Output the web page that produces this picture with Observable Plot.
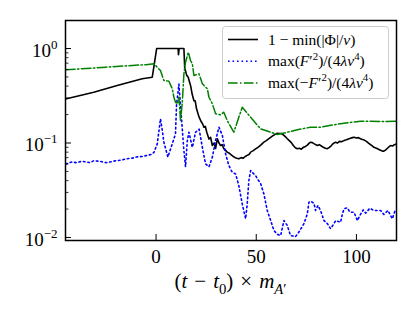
<!DOCTYPE html>
<html><head><meta charset="utf-8">
<script src="https://cdn.jsdelivr.net/npm/d3@7"></script>
<script src="https://cdn.jsdelivr.net/npm/@observablehq/plot@0.6"></script>
<style>body{margin:0;background:#fff}</style>
</head><body><div id="chart"></div>
<script>
// ---- data (t - t0) * m_A', value ----
const blackSeries = [[-45.2,0.292],[-31.1,0.345],[-19.4,0.406],[-6.9,0.478],[-1.9,0.497],[0.3,1.0],[11.0,1.0],[11.2,0.86],[11.5,1.0],[13.9,1.0],
[14.3,0.62],[14.8,0.57],[15.3,0.52],[16.0,0.5],[16.6,0.45],[17.3,0.40],[18.0,0.33],[18.9,0.28],[19.5,0.28],[20.2,0.23],[21.4,0.19],[22.4,0.17],
[23.2,0.16],[23.9,0.147],[24.6,0.15],[25.3,0.13],[26.4,0.11],[27.2,0.115],[28.1,0.094],[29,0.10],[29.7,0.0875],[30.6,0.111],[31.4,0.10],[32.2,0.094],
[33,0.096],[33.8,0.087],[34.6,0.084],[35.5,0.080],[36.5,0.078],[37.5,0.075],[38.5,0.072],[39.5,0.070],[40.3,0.069],[41.3,0.068],
[42.5,0.070],[43.5,0.069],[44.5,0.072],[45.5,0.074],[46.5,0.076],[47.2,0.080],[48.5,0.083],[49.5,0.086],[50.5,0.089],[51.5,0.092],[52.5,0.096],
[53.8,0.102],[55,0.106],[56,0.110],[57,0.114],[58,0.118],[59,0.122],[60.5,0.127],[61.5,0.126],[62.5,0.126],[63.5,0.122],[64.5,0.117],[65.5,0.111],
[66.5,0.106],[67.5,0.101],[68.5,0.094],[69.5,0.089],[70.5,0.087],[71.5,0.088],[72.5,0.086],[73.5,0.090],[74.6,0.092],[75.5,0.095],[76.3,0.099],
[77.1,0.102],[78,0.101],[79,0.098],[80.5,0.094],[81.5,0.096],[82.5,0.093],[83.5,0.090],[84.5,0.088],[85.5,0.087],[86.5,0.090],[87.5,0.094],
[88.5,0.099],[89.6,0.102],[90.5,0.100],[91.5,0.104],[92.5,0.103],[93.8,0.106],[95,0.108],[96,0.110],[97,0.112],[98,0.114],[98.8,0.115],[100,0.113],
[101,0.114],[102,0.111],[103,0.109],[103.7,0.108],[105,0.104],[106,0.100],[107,0.096],[108,0.093],[108.7,0.090],[110,0.088],[111,0.086],[112,0.084],
[113,0.082],[113.7,0.082],[114.5,0.084],[115.5,0.088],[116.5,0.092],[117.1,0.094],[118,0.093],[119,0.096],[120,0.098]];

const blueSeries = [[-45,0.060],[-42,0.063],[-40,0.062],[-37,0.064],[-35,0.063],[-33,0.062],[-31,0.065],[-28,0.064],[-25,0.062],[-23,0.063],
[-20,0.065],[-17,0.066],[-15,0.068],[-12,0.069],[-10,0.071],[-7,0.072],[-4.4,0.074],[-2,0.076],[-1,0.080],[0.6,0.098],
[2.2,0.180],[3.1,0.136],[3.9,0.102],[5.9,0.071],[8.1,0.098],[9.7,0.125],[10.2,0.249],[11.4,0.42],[12.2,0.25],[13.9,0.083],
[14.7,0.056],[15.6,0.106],[16.4,0.130],[18.1,0.090],[19.7,0.130],[21.5,0.14],[23.1,0.090],[24.7,0.060],[26.4,0.056],[28.1,0.071],
[29.7,0.106],[31.4,0.147],[33.1,0.120],[34.7,0.077],[36.3,0.058],[38,0.049],[39.7,0.047],[41.3,0.0355],[43,0.0227],[44.7,0.0158],
[45.5,0.0227],[46.3,0.040],[47.2,0.051],[49.7,0.045],[52.2,0.037],[53.8,0.029],[55.5,0.0193],[57.2,0.0151],[58.8,0.0119],[60.5,0.0108],
[62.2,0.0105],[63.8,0.0151],[65.5,0.0134],[67.1,0.0105],[69.6,0.0102],[71.3,0.0114],[73.8,0.0140],[75.5,0.0178],[76.3,0.0236],[77.1,0.0242],
[78.8,0.0230],[79.6,0.0193],[80.8,0.0218],[82.1,0.0193],[83.8,0.0151],[85.5,0.0140],[87.1,0.0124],[88.8,0.0140],[89.6,0.0151],[92.1,0.0145],
[93,0.0178],[93.8,0.0201],[95.4,0.0206],[96.8,0.0185],[98.8,0.0185],[100.5,0.0151],[101.7,0.0171],[103.4,0.0196],[104.6,0.0181],[106.7,0.0204],
[108.7,0.0193],[110.4,0.0193],[112.1,0.0193],[113.7,0.0175],[115.7,0.0193],[117.9,0.0158],[119.6,0.0201]];

const greenSeries = [[-45.2,0.595],[-35,0.615],[-25,0.635],[-15,0.655],[-5,0.675],[-1.1,0.689],[2.2,0.585],[3.9,0.459],[6.4,0.451],[8.1,0.375],
[8.9,0.305],[9.7,0.270],[10.6,0.260],[11.4,0.305],[11.9,0.221],[12.2,0.173],[13.1,0.270],[13.9,0.540],[14.7,0.716],[16.1,0.914],[17.2,0.747],
[18.1,0.689],[18.9,0.518],[21.4,0.540],[23.1,0.423],[25.6,0.375],[26.4,0.305],[28.1,0.260],[29.7,0.204],[32.2,0.199],[33.8,0.212],[35.5,0.173],
[38.8,0.130],[43.0,0.239],[47.2,0.187],[52.2,0.141],[57.2,0.130],[60.5,0.123],[65.5,0.130],[70.5,0.138],[77.1,0.147],[82.1,0.147],[88,0.155],
[93.8,0.162],[102.1,0.170],[112.1,0.169],[120,0.170]];

const xTicks = [0, 50, 100];
const yTicks = [0.01, 0.1, 1];
const yMinor = [0.02,0.03,0.04,0.05,0.06,0.07,0.08,0.09,0.2,0.3,0.4,0.5,0.6,0.7,0.8,0.9];
const xDomain = [-45.2, 120];
const yDomain = [0.00929, 1.98];

const FONT = "'Liberation Serif', 'DejaVu Serif', serif";
const W = 415, H = 312, mL = 65, mR = 19, mT = 20, mB = 72;
const plotW = W - mL - mR, plotH = H - mT - mB;
const toObj = a => a.map(([t, v]) => ({t, v}));

const styles = {
  black: {stroke: "black", strokeWidth: 1.6, strokeDasharray: null},
  blue: {stroke: "#0000ff", strokeWidth: 1.6, strokeDasharray: "1.6,2.9"},
  green: {stroke: "#008000", strokeWidth: 1.5, strokeDasharray: "9.6,2.4,1.5,2.4"}
};

const chart = Plot.plot({
  width: W, height: H, marginLeft: mL, marginRight: mR, marginTop: mT, marginBottom: mB,
  style: {background: "white", fontFamily: FONT, fontSize: "19px", color: "black", overflow: "visible"},
  x: {domain: xDomain},
  y: {type: "log", domain: yDomain},
  marks: [
    Plot.line(toObj(blackSeries), {x: "t", y: "v", ...styles.black, clip: true}),
    Plot.line(toObj(blueSeries), {x: "t", y: "v", ...styles.blue, clip: true}),
    Plot.line(toObj(greenSeries), {x: "t", y: "v", ...styles.green, clip: true}),
    Plot.tickX(xTicks, {x: d => d, insetTop: plotH - 6, stroke: "black", strokeWidth: 1}),
    Plot.tickY(yTicks, {y: d => d, insetRight: plotW - 6, stroke: "black", strokeWidth: 1}),
    Plot.tickY(yMinor, {y: d => d, insetRight: plotW - 3.5, stroke: "black", strokeWidth: 0.8}),
    Plot.axisX({ticks: xTicks, tickSize: 0, tickPadding: 9, label: null, tickFormat: d => String(d)}),
    Plot.axisY({ticks: yTicks, tickSize: 0, tickPadding: 8, label: null, dy: 2,
      tickFormat: d => "10^" + Math.round(Math.log10(d))}),
    Plot.frame({stroke: "black", strokeWidth: 1.5})
  ]
});
document.getElementById("chart").appendChild(chart);

const svg = d3.select(chart);

// superscript tick labels
svg.selectAll('g[aria-label="y-axis tick label"] text').each(function () {
  const [b, e] = this.textContent.split("^");
  const el = d3.select(this);
  el.text(null);
  el.append("tspan").text(b);
  el.append("tspan").attr("dy", -8).attr("font-size", 13).text(e.replace("-", "\u2212"));
});

function rich(sel, x, y, parts, fs, anchor = "start") {
  const t = sel.append("text").attr("x", x).attr("y", y).attr("font-size", fs)
    .attr("text-anchor", anchor).attr("font-family", FONT).attr("fill", "black")
    .style("white-space", "pre");
  let shift = 0;
  for (const p of parts) {
    const [s, k = ""] = typeof p === "string" ? [p] : p;
    const isSup = k.includes("sup"), isSub = k.includes("sub");
    const target = isSup ? -fs * 0.42 : isSub ? fs * 0.28 : 0;
    const ts = t.append("tspan").text(s).attr("dy", target - shift);
    shift = target;
    if (isSup || isSub) ts.attr("font-size", fs * 0.7);
    if (k.startsWith("i")) ts.attr("font-style", "italic");
  }
  return t;
}

// x label
rich(svg, mL + plotW / 2, 288,
  ["(", ["t", "i"], "\u2004\u2212\u2004", ["t", "i"], ["0", "sub"], ")\u2004\u00d7\u2004", ["m", "i"], ["A", "isub"], ["\u2032", "sub"]],
  21, "middle");

// legend
const legendRows = [
  {key: "black", parts: ["1 \u2212 min(|\u03a6|/", ["v", "i"], ")"]},
  {key: "blue", parts: ["max(", ["F", "i"], "\u2032", ["2", "sup"], ")/(4", ["\u03bbv", "i"], ["4", "sup"], ")"]},
  {key: "green", parts: ["max(\u2212", ["F", "i"], "\u2032", ["2", "sup"], ")/(4", ["\u03bbv", "i"], ["4", "sup"], ")"]}
];
const lg = svg.append("g");
lg.append("rect").attr("x", 222.5).attr("y", 26.5).attr("width", 166).attr("height", 72).attr("rx", 3)
  .attr("fill", "white").attr("fill-opacity", 0.8).attr("stroke", "#cccccc").attr("stroke-width", 1);
legendRows.forEach((r, i) => {
  const yy = 39.5 + i * 21.7;
  const s = styles[r.key];
  lg.append("line").attr("x1", 228).attr("x2", 258).attr("y1", yy).attr("y2", yy)
    .attr("stroke", s.stroke).attr("stroke-width", s.strokeWidth)
    .attr("stroke-dasharray", s.strokeDasharray);
  rich(lg, 268, yy + 5, r.parts, 15.5);
});
</script>
</body></html>
